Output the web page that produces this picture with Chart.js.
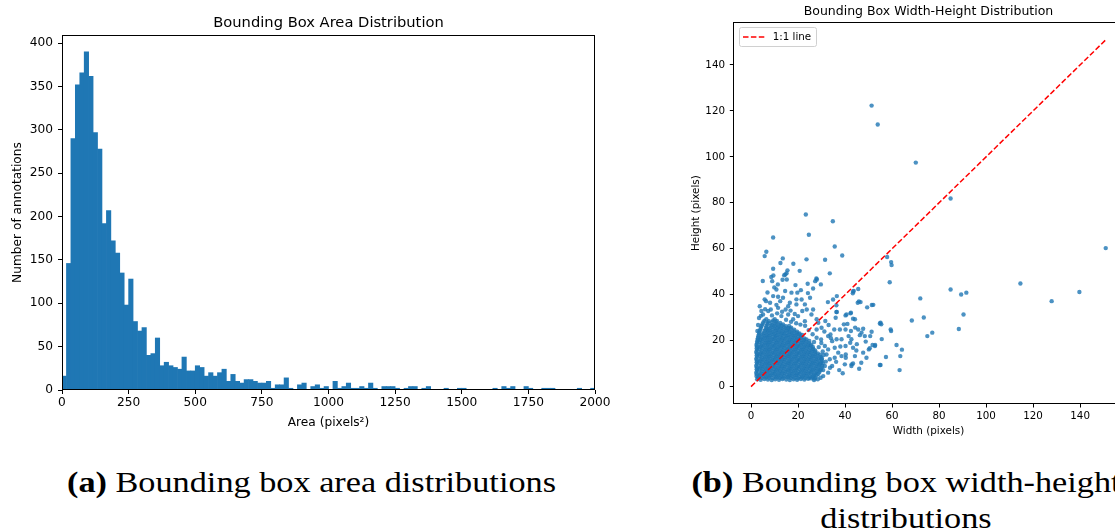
<!DOCTYPE html>
<html>
<head>
<meta charset="utf-8">
<script src="https://cdn.jsdelivr.net/npm/chart.js@4.4.1/dist/chart.umd.min.js"></script>
<style>
    html, body { margin: 0; padding: 0; background: #fff; }
    body { width: 1115px; height: 531px; overflow: hidden; position: relative; }
    .panel { position: absolute; top: 0; }
    .caption {
        position: absolute;
        font-family: "Liberation Serif", serif;
        font-size: 29px;
        line-height: 36px;
        color: #000;
        white-space: nowrap;
        text-align: center;
        transform-origin: center top;
    }
</style>
</head>
<body>
<div class="panel" style="left:0;width:620px;height:440px"><canvas id="areaChart"></canvas></div>
<div class="panel" style="left:690px;width:440px;height:440px"><canvas id="sizeChart"></canvas></div>
<div class="caption" id="capA" style="left:0;width:623px;top:464px"><span><b>(a)</b> Bounding box area distributions</span></div>
<div class="caption" id="capB" style="left:606px;width:600px;top:464px"><b>(b)</b> Bounding box width-height<br>distributions</div>
<script>
// area histogram: 120 equal bins between 0 and 2000 px²
const areaRange = [0, 2000];
const areaCounts = [
    16, 146, 290, 352, 366, 390, 362, 297, 278, 192,
    207, 172, 158, 135, 98, 128, 79, 68, 72, 40,
    42, 60, 28, 32, 28, 26, 24, 38, 22, 22,
    28, 26, 16, 20, 16, 20, 24, 10, 18, 10,
    8, 12, 12, 10, 8, 8, 10, 2, 6, 6,
    14, 2, 0, 6, 8, 0, 4, 6, 2, 4,
    0, 10, 2, 4, 8, 2, 2, 4, 2, 8,
    2, 0, 4, 4, 4, 2, 0, 2, 4, 4,
    0, 2, 4, 0, 0, 0, 2, 0, 0, 2,
    2, 0, 0, 0, 0, 0, 0, 2, 0, 4,
    2, 4, 0, 0, 4, 2, 0, 0, 2, 2,
    2, 0, 0, 0, 0, 0, 2, 0, 0, 2
];
const areaTicks = [0, 250, 500, 750, 1000, 1250, 1500, 1750, 2000];
const countTicks = [0, 50, 100, 150, 200, 250, 300, 350, 400];

// box width / height pairs in pixels
const boxSizes = [
    // dense core
    [2.6,3.2],[4.1,3.0],[5.7,3.3],[7.2,3.1],[8.8,2.9],[10.3,3.2],[11.9,3.0],[13.4,3.3],[15.0,3.1],[16.5,2.9],[18.1,3.2],[19.6,3.0],[21.2,3.3],[22.7,3.1],[24.3,3.4],[25.6,3.6],
    [3.0,3.9],[4.5,3.8],[6.1,4.0],[7.6,3.9],[9.2,3.7],[10.7,4.0],[12.3,3.8],[13.8,3.9],[15.4,4.1],[16.9,3.8],[18.5,3.9],[20.0,3.7],[21.6,4.0],[23.1,3.8],[24.7,3.9],[26.3,4.1],[27.3,3.8],
    [2.3,4.6],[3.4,4.5],[4.9,4.7],[6.5,4.5],[8.0,4.6],[9.6,4.8],[11.1,4.5],[12.7,4.6],[14.2,4.7],[15.8,4.5],[17.3,4.6],[18.9,4.8],[20.4,4.5],[22.0,4.6],[23.5,4.7],[25.1,4.5],[26.6,4.8],[27.9,5.0],
    [2.5,5.4],[3.8,5.3],[5.3,5.5],[6.9,5.4],[8.4,5.2],[10.0,5.5],[11.5,5.3],[13.1,5.4],[14.6,5.6],[16.2,5.3],[17.7,5.4],[19.3,5.2],[20.8,5.5],[22.4,5.3],[23.9,5.4],[25.5,5.6],[27.0,5.3],[28.5,5.5],
    [2.2,6.1],[4.1,6.0],[5.7,6.2],[7.2,6.1],[8.8,5.9],[10.3,6.2],[11.9,6.0],[13.4,6.1],[15.0,6.3],[16.5,6.0],[18.1,6.1],[19.6,5.9],[21.2,6.2],[22.7,6.0],[24.3,6.1],[25.8,6.3],[27.4,6.0],[29.0,6.2],
    [2.6,6.9],[4.5,6.8],[6.1,7.0],[7.6,6.9],[9.2,6.7],[10.7,7.0],[12.3,6.8],[13.8,6.9],[15.4,7.1],[16.9,6.8],[18.5,6.9],[20.0,6.7],[21.6,7.0],[23.1,6.8],[24.7,6.9],[26.2,7.1],[27.8,6.8],[29.3,7.0],
    [2.4,7.6],[3.4,7.5],[4.9,7.7],[6.5,7.6],[8.0,7.4],[9.6,7.7],[11.1,7.5],[12.7,7.6],[14.2,7.8],[15.8,7.5],[17.3,7.6],[18.9,7.4],[20.4,7.7],[22.0,7.5],[23.5,7.6],[25.1,7.8],[26.6,7.5],[28.2,7.6],[29.7,7.4],
    [2.5,8.4],[3.8,8.3],[5.3,8.5],[6.9,8.4],[8.4,8.2],[10.0,8.5],[11.5,8.3],[13.1,8.4],[14.6,8.6],[16.2,8.3],[17.7,8.4],[19.3,8.2],[20.8,8.5],[22.4,8.3],[23.9,8.4],[25.5,8.6],[27.0,8.3],[28.6,8.4],[30.0,8.2],
    [2.2,9.1],[4.1,9.0],[5.7,9.2],[7.2,9.1],[8.8,8.9],[10.3,9.2],[11.9,9.0],[13.4,9.1],[15.0,9.3],[16.5,9.0],[18.1,9.1],[19.6,8.9],[21.2,9.2],[22.7,9.0],[24.3,9.1],[25.8,9.3],[27.4,9.0],[28.9,9.2],[30.3,9.0],
    [2.6,9.9],[4.5,9.8],[6.1,10.0],[7.6,9.9],[9.2,9.7],[10.7,10.0],[12.3,9.8],[13.8,9.9],[15.4,10.1],[16.9,9.8],[18.5,9.9],[20.0,9.7],[21.6,10.0],[23.1,9.8],[24.7,9.9],[26.2,10.1],[27.8,9.8],[29.3,9.9],[30.5,10.1],
    [2.4,10.6],[3.4,10.5],[4.9,10.7],[6.5,10.6],[8.0,10.4],[9.6,10.7],[11.1,10.5],[12.7,10.6],[14.2,10.8],[15.8,10.5],[17.3,10.6],[18.9,10.4],[20.4,10.7],[22.0,10.5],[23.5,10.6],[25.1,10.8],[26.6,10.5],[28.2,10.6],[29.8,10.4],
    [2.5,11.4],[3.8,11.3],[5.3,11.5],[6.9,11.4],[8.4,11.2],[10.0,11.5],[11.5,11.3],[13.1,11.4],[14.6,11.6],[16.2,11.3],[17.7,11.4],[19.3,11.2],[20.8,11.5],[22.4,11.3],[23.9,11.4],[25.5,11.6],[27.0,11.3],[28.6,11.4],[30.2,11.2],
    [2.2,12.1],[4.1,12.0],[5.7,12.2],[7.2,12.1],[8.8,11.9],[10.3,12.2],[11.9,12.0],[13.4,12.1],[15.0,12.3],[16.5,12.0],[18.1,12.1],[19.6,11.9],[21.2,12.2],[22.7,12.0],[24.3,12.1],[25.8,12.3],[27.4,12.0],[28.9,12.2],[30.1,12.4],
    [2.6,12.9],[4.5,12.8],[6.1,13.0],[7.6,12.9],[9.2,12.7],[10.7,13.0],[12.3,12.8],[13.8,12.9],[15.4,13.1],[16.9,12.8],[18.5,12.9],[20.0,12.7],[21.6,13.0],[23.1,12.8],[24.7,12.9],[26.2,13.1],[27.8,12.8],[29.6,12.9],
    [2.4,13.6],[3.4,13.5],[4.9,13.7],[6.5,13.6],[8.0,13.4],[9.6,13.7],[11.1,13.5],[12.7,13.6],[14.2,13.8],[15.8,13.5],[17.3,13.6],[18.9,13.4],[20.4,13.7],[22.0,13.5],[23.5,13.6],[25.1,13.8],[26.6,13.5],[28.2,13.6],[29.4,13.9],
    [2.5,14.4],[3.8,14.3],[5.3,14.5],[6.9,14.4],[8.4,14.2],[10.0,14.5],[11.5,14.3],[13.1,14.4],[14.6,14.6],[16.2,14.3],[17.7,14.4],[19.3,14.2],[20.8,14.5],[22.4,14.3],[23.9,14.4],[25.5,14.6],[27.0,14.3],[28.4,14.5],
    [2.2,15.1],[4.1,15.0],[5.7,15.2],[7.2,15.1],[8.8,14.9],[10.3,15.2],[11.9,15.0],[13.4,15.1],[15.0,15.3],[16.5,15.0],[18.1,15.1],[19.6,14.9],[21.2,15.2],[22.7,15.0],[24.3,15.1],[25.8,15.3],[27.3,15.0],
    [2.6,15.9],[4.5,15.8],[6.1,16.0],[7.6,15.9],[9.2,15.7],[10.7,16.0],[12.3,15.8],[13.8,15.9],[15.4,16.1],[16.9,15.8],[18.5,15.9],[20.0,15.7],[21.6,16.0],[23.1,15.8],[24.7,15.9],[26.2,16.1],[27.3,15.8],
    [2.4,16.6],[3.4,16.5],[4.9,16.7],[6.5,16.6],[8.0,16.4],[9.6,16.7],[11.1,16.5],[12.7,16.6],[14.2,16.8],[15.8,16.5],[17.3,16.6],[18.9,16.4],[20.4,16.7],[22.0,16.5],[23.5,16.6],[25.1,16.8],[26.5,16.4],
    [2.5,17.4],[3.8,17.3],[5.3,17.5],[6.9,17.4],[8.4,17.2],[10.0,17.5],[11.5,17.3],[13.1,17.4],[14.6,17.6],[16.2,17.3],[17.7,17.4],[19.3,17.2],[20.8,17.5],[22.4,17.3],[23.9,17.4],[25.5,17.6],[26.3,17.3],
    [2.3,18.1],[4.1,18.0],[5.7,18.2],[7.2,18.1],[8.8,17.9],[10.3,18.2],[11.9,18.0],[13.4,18.1],[15.0,18.3],[16.5,18.0],[18.1,18.1],[19.6,17.9],[21.2,18.2],[22.7,18.0],[24.3,18.1],[25.6,18.3],
    [2.6,18.9],[4.5,18.8],[6.1,19.0],[7.6,18.9],[9.2,18.7],[10.7,19.0],[12.3,18.8],[13.8,18.9],[15.4,19.1],[16.9,18.8],[18.5,18.9],[20.0,18.7],[21.6,19.0],[23.1,18.8],[24.7,18.9],
    [2.6,19.6],[3.4,19.5],[4.9,19.7],[6.5,19.6],[8.0,19.4],[9.6,19.7],[11.1,19.5],[12.7,19.6],[14.2,19.8],[15.8,19.5],[17.3,19.6],[18.9,19.4],[20.4,19.7],[22.0,19.5],[23.5,19.6],[24.8,19.9],
    [2.8,20.4],[3.8,20.3],[5.3,20.5],[6.9,20.4],[8.4,20.2],[10.0,20.5],[11.5,20.3],[13.1,20.4],[14.6,20.6],[16.2,20.3],[17.7,20.4],[19.3,20.2],[20.8,20.5],[22.4,20.3],[23.6,20.5],
    [2.9,21.1],[4.1,21.0],[5.7,21.2],[7.2,21.1],[8.8,20.9],[10.3,21.2],[11.9,21.0],[13.4,21.1],[15.0,21.3],[16.5,21.0],[18.1,21.1],[19.6,20.9],[21.2,21.2],[22.7,21.0],
    [3.1,21.9],[4.5,21.8],[6.1,22.0],[7.6,21.9],[9.2,21.7],[10.7,22.0],[12.3,21.8],[13.8,21.9],[15.4,22.1],[16.9,21.8],[18.5,21.9],[20.0,21.7],[21.2,22.0],
    [3.3,22.6],[4.9,22.7],[6.5,22.6],[8.0,22.4],[9.6,22.7],[11.1,22.5],[12.7,22.6],[14.2,22.8],[15.8,22.5],[17.3,22.6],[18.9,22.4],[20.4,22.7],[21.8,22.5],
    [3.5,23.4],[5.3,23.3],[6.9,23.5],[8.4,23.4],[10.0,23.2],[11.5,23.5],[13.1,23.3],[14.6,23.4],[16.2,23.6],[17.7,23.3],[19.3,23.4],[20.6,23.2],
    [3.6,24.1],[5.7,24.2],[7.2,24.1],[8.8,23.9],[10.3,24.2],[11.9,24.0],[13.4,24.1],[15.0,24.3],[16.5,24.0],[18.1,24.1],[19.6,23.9],
    [3.9,24.9],[6.1,24.8],[7.6,25.0],[9.2,24.9],[10.7,24.7],[12.3,25.0],[13.8,24.8],[15.4,24.9],[16.9,25.1],[18.4,24.8],
    [4.2,25.6],[6.5,25.6],[8.0,25.4],[9.6,25.7],[11.1,25.5],[12.7,25.6],[14.2,25.8],[15.8,25.5],[17.1,25.7],
    [4.5,26.4],[6.5,26.3],[8.4,26.5],[10.0,26.4],[11.5,26.2],[13.1,26.5],[14.8,26.3],[16.2,26.4],
    [4.8,27.1],[6.9,27.2],[8.8,26.9],[10.3,27.2],[11.9,27.0],[13.6,27.1],
    [5.2,27.9],[7.2,27.8],[9.0,28.0],[10.7,27.9],[12.4,27.7],
    [5.7,28.7],[7.6,28.5],[9.4,28.8],[11.0,28.6],
    // ragged edge of the core
    [26.8,19.4],[27.9,21.3],[28.8,17.2],[29.9,19.0],[26.2,22.8],[24.5,24.6],[23.0,26.5],[21.0,27.0],[19.2,27.6],[17.0,28.2],
    [14.9,29.1],[3.0,26.8],[2.7,24.2],[3.4,29.9],[4.2,30.8],[6.0,33.7],[8.9,31.0],[10.8,35.6],[13.2,32.6],[16.8,33.1],
    [18.6,31.6],[7.0,41.0],[9.9,43.2],[5.0,46.0],[8.6,47.7],[30.7,7.2],[31.8,10.9],[30.9,13.8],[33.6,8.2],[29.6,3.9],
    [27.0,3.5],[26.8,2.9],
    // fringe above the core
    [3.7,35.0],[5.1,31.4],[7.3,32.9],[6.5,29.3],[10.1,29.3],[12.9,30.7],[15.8,31.4],[17.9,29.3],[20.0,30.7],[22.9,28.5],
    [25.7,31.4],[27.9,29.3],[5.8,38.0],[9.4,39.4],[13.6,38.7],[15.8,35.0],[19.3,38.0],[11.5,34.3],[4.4,32.9],[22.9,35.8],
    [26.4,33.6],[28.6,27.8],[30.0,25.6],[27.9,24.9],
    [15.1,49.4],[14.1,48.5],[13.4,46.5],[15.2,46.6],[28.0,46.6],[10.8,42.3],[14.5,41.6],[17.2,40.9],[19.7,40.9],[21.2,42.0],
    [24.2,40.7],[26.4,42.7],[25.1,38.7],[21.5,37.9],[11.5,39.1],[12.4,37.2],[6.4,37.2],[8.1,36.5],[16.5,36.5],[19.3,35.8],
    [23.7,33.6],[21.8,32.9],[14.7,33.6],[11.1,31.9],[8.4,33.6],
    // fringe right of the core
    [31.4,17.7],[32.8,16.2],[32.1,14.0],[34.5,19.8],[35.6,16.9],[37.1,14.8],[33.5,11.9],[35.6,12.6],[38.5,13.3],[34.5,9.0],
    [31.4,9.0],[32.8,6.1],[30.7,4.6],[36.4,20.6],[32.8,22.0],[30.0,11.9],[37.5,7.2],[39.0,5.8],[36.2,10.8],[45.0,18.5],
    [44.8,15.7],[48.8,19.6],[46.0,7.8],[38.0,17.5],[41.0,27.3],[33.0,26.8],[31.6,28.6],[29.8,20.5],[30.5,15.3],[31.2,24.0],
    [35.4,24.9],[37.8,24.9],[40.2,24.9],[33.8,22.7],[34.0,21.1],[38.5,20.6],[41.5,22.0],[42.2,19.1],[42.5,24.2],[45.6,24.9],
    [47.0,23.5],[48.4,22.0],[50.7,22.0],[47.7,25.2],[46.3,22.4],[52.7,17.7],[50.1,16.2],[40.2,17.7],[43.4,16.9],[40.3,14.0],
    [44.2,13.3],[42.8,9.7],[39.9,9.7],[46.9,10.4],[47.7,14.8],[54.8,9.4],[59.4,24.9],[55.1,27.8],
    [34.9,37.9],[36.5,39.4],[43.7,41.6],[46.6,36.8],[52.0,35.6],[42.5,32.2],[36.5,32.5],[36.0,30.0],[44.2,29.3],
    [42.7,20.6],[44.3,25.7],[40.3,12.6],[43.4,10.1],[42.7,9.0],[28.4,3.2],
    // sparse boxes
    [38.8,57.1],[35.6,61.0],[34.8,72.0],[23.3,74.9],[24.6,66.1],[9.4,64.9],[6.5,58.7],[5.8,56.8],
    [23.6,55.4],[31.5,55.2],[13.5,55.8],[12.5,53.8],[18.0,53.5],[20.7,50.4],[15.5,50.6],[14.6,48.8],[9.4,51.3],[9.5,48.4],
    [33.5,49.3],[27.8,47.1],[27.3,45.9],[29.7,44.5],[24.1,44.8],[18.9,44.2],[11.4,44.5],[9.0,45.9],[32.7,36.8],[36.3,35.4],
    [45.9,37.1],[45.6,42.5],[43.4,41.4],[43.3,40.6],[45.4,36.5],[43.4,29.6],[42.3,31.9],[40.6,31.4],[40.2,31.0],[39.5,27.1],[36.3,32.5],
    [64.2,16.1],[63.5,13.3],[63.2,7.2],[61.9,18.1],[59.6,24.2],[57.4,12.9],[55.1,9.4],[55.6,20.7],[54.8,27.5],[55.4,27.1],
    [52.8,18.1],[51.7,18.1],[51.3,23.9],[50.5,16.7],[51.4,35.5],[49.4,34.5],[49.1,12.6],
    [59.6,54.2],[59.8,52.9],[57.9,56.4],[59.0,45.4],
    [84.9,42.3],[89.4,40.1],[91.6,40.9],[90.4,31.4],[88.4,25.1],[72.0,38.4],[73.5,30.1],[68.4,28.8],[75.0,22.0],[77.1,23.5],
    [51.3,122.3],[53.9,114.1],[70.1,97.5],[84.9,81.9],[150.9,60.3],[114.6,44.9],[139.7,41.2],[127.9,37.2]
];
const sizeLimit = 151; // the 1:1 line runs from 0 to the longest side
const sizeTicks = [0, 20, 40, 60, 80, 100, 120, 140];

Chart.defaults.font.family = "'DejaVu Sans', sans-serif";
Chart.defaults.color = "#000";
Chart.defaults.animation = false;

// black box round the plot area, like matplotlib spines
const plotFrame = {
    id: "plotFrame",
    afterDatasetsDraw(chart) {
        const a = chart.chartArea;
        const ctx = chart.ctx;
        const l = Math.round(a.left) + 0.5, t = Math.round(a.top) + 0.5;
        const r = Math.round(a.right) - 0.5, b = Math.round(a.bottom) - 0.5;
        ctx.save();
        ctx.strokeStyle = "#000";
        ctx.lineWidth = 1;
        ctx.strokeRect(l, t, r - l, b - t);
        ctx.restore();
    },
};

// small legend box in the upper left corner of the scatter
const lineKey = {
    id: "lineKey",
    afterDraw(chart) {
        const a = chart.chartArea;
        const ctx = chart.ctx;
        const x = a.left + 5.7, y = a.top + 4.7, w = 77, h = 19;
        ctx.save();
        ctx.beginPath();
        ctx.roundRect(x + 0.5, y + 0.5, w, h, 2);
        ctx.fillStyle = "rgba(255,255,255,0.8)";
        ctx.fill();
        ctx.strokeStyle = "#d0d0d0";
        ctx.lineWidth = 1;
        ctx.stroke();
        ctx.beginPath();
        ctx.setLineDash([5.5, 2.4]);
        ctx.strokeStyle = "#ff0000";
        ctx.lineWidth = 1.5;
        ctx.moveTo(x + 4, y + h / 2 + 0.5);
        ctx.lineTo(x + 26, y + h / 2 + 0.5);
        ctx.stroke();
        ctx.setLineDash([]);
        ctx.fillStyle = "#000";
        ctx.font = "10.3px 'DejaVu Sans'";
        ctx.textBaseline = "middle";
        ctx.fillText("1:1 line", x + 33.7, y + h / 2 + 0.5);
        ctx.restore();
    },
};

function tickMarks(len) {
    return { offset: false, drawOnChartArea: false, drawTicks: true, tickLength: len, tickColor: "#000", tickWidth: 1 };
}

// ---- histogram ----
const binWidth = (areaRange[1] - areaRange[0]) / areaCounts.length;
const areaBars = areaCounts.map((count, i) => ({ x: areaRange[0] + (i + 0.5) * binWidth, y: count }));

new Chart(document.getElementById("areaChart"), {
    type: "bar",
    data: {
        datasets: [
            {
                label: "Area",
                data: areaBars,
                backgroundColor: "#1f77b4",
                borderWidth: 0,
                barPercentage: 1,
                categoryPercentage: 1,
            },
        ],
    },
    options: {
        responsive: true,
        maintainAspectRatio: false,
        devicePixelRatio: 1,
        layout: { padding: { left: 0, right: 25, top: 0, bottom: 0 } },
        plugins: {
            legend: { display: false },
            tooltip: { enabled: false },
            title: {
                display: true,
                fullSize: false,
                text: "Bounding Box Area Distribution",
                color: "#000",
                font: { size: 14.7, weight: "normal" },
                padding: { top: 14.5, bottom: 2.9 },
            },
        },
        scales: {
            x: {
                type: "linear",
                min: areaRange[0],
                max: areaRange[1],
                offset: false,
                afterBuildTicks: (s) => { s.ticks = areaTicks.map((v) => ({ value: v })); },
                afterFit: (s) => { s.height = 50; },
                grid: tickMarks(4),
                border: { display: false },
                ticks: { autoSkip: false, maxRotation: 0, padding: 1.7, font: { size: 12.2 }, callback: (v) => String(v) },
                title: { display: true, text: "Area (pixels²)", font: { size: 12.2 }, padding: { top: 0, bottom: 9.7 } },
            },
            y: {
                min: 0,
                max: Math.max(...areaCounts) * 1.05,
                afterBuildTicks: (s) => { s.ticks = countTicks.map((v) => ({ value: v })); },
                afterFit: (s) => { s.width = 62; },
                grid: tickMarks(4),
                border: { display: false },
                ticks: { autoSkip: false, padding: 5, font: { size: 12.2 }, callback: (v) => String(v) },
                title: { display: true, text: "Number of annotations", font: { size: 12.2 }, padding: { top: 10.4, bottom: 0 } },
            },
        },
    },
    plugins: [plotFrame],
});

// ---- width / height scatter ----
const sizeLo = -0.05 * sizeLimit;
const sizeHi = sizeLimit * 1.05;

new Chart(document.getElementById("sizeChart"), {
    type: "scatter",
    data: {
        datasets: [
            {
                label: "1:1 line",
                type: "line",
                data: [{ x: 0, y: 0 }, { x: sizeLimit, y: sizeLimit }],
                borderColor: "#ff0000",
                borderWidth: 1.5,
                borderDash: [5.5, 2.4],
                pointRadius: 0,
                fill: false,
            },
            {
                label: "Boxes",
                data: boxSizes.map((b) => ({ x: b[0], y: b[1] })),
                backgroundColor: "rgba(31,119,180,0.8)",
                borderWidth: 0,
                pointRadius: 2.2,
            },
        ],
    },
    options: {
        responsive: true,
        maintainAspectRatio: false,
        devicePixelRatio: 1,
        layout: { padding: { left: 0, right: 6.3, top: 0, bottom: 0 } },
        plugins: {
            legend: { display: false },
            tooltip: { enabled: false },
            title: {
                display: true,
                fullSize: false,
                text: "Bounding Box Width-Height Distribution",
                color: "#000",
                font: { size: 12.5, weight: "normal" },
                padding: { top: 4.2, bottom: 3.1 },
            },
        },
        scales: {
            x: {
                type: "linear",
                min: sizeLo,
                max: sizeHi,
                afterBuildTicks: (s) => { s.ticks = sizeTicks.map((v) => ({ value: v })); },
                afterFit: (s) => { s.height = 36; },
                grid: tickMarks(3.5),
                border: { display: false },
                ticks: { autoSkip: false, maxRotation: 0, padding: 3, font: { size: 10.3 }, callback: (v) => String(v) },
                title: { display: true, text: "Width (pixels)", font: { size: 10.4 }, padding: { top: 0, bottom: 2 } },
            },
            y: {
                type: "linear",
                min: sizeLo,
                max: sizeHi,
                afterBuildTicks: (s) => { s.ticks = sizeTicks.map((v) => ({ value: v })); },
                afterFit: (s) => { s.width = 43.3; },
                grid: tickMarks(3.5),
                border: { display: false },
                ticks: { autoSkip: false, padding: 4.8, font: { size: 10.3 }, callback: (v) => String(v) },
                title: { display: true, text: "Height (pixels)", font: { size: 10.4 }, padding: { top: 0, bottom: 0 } },
            },
        },
    },
    plugins: [plotFrame, lineKey],
});

// captions: stretch the serif text to the width of the typeset originals
const capSpan = document.querySelector("#capA span");
const stretch = 489 / capSpan.getBoundingClientRect().width;
document.getElementById("capA").style.transform = "scaleX(" + stretch + ")";
document.getElementById("capB").style.transform = "scaleX(" + stretch + ")";
</script>
</body>
</html>
